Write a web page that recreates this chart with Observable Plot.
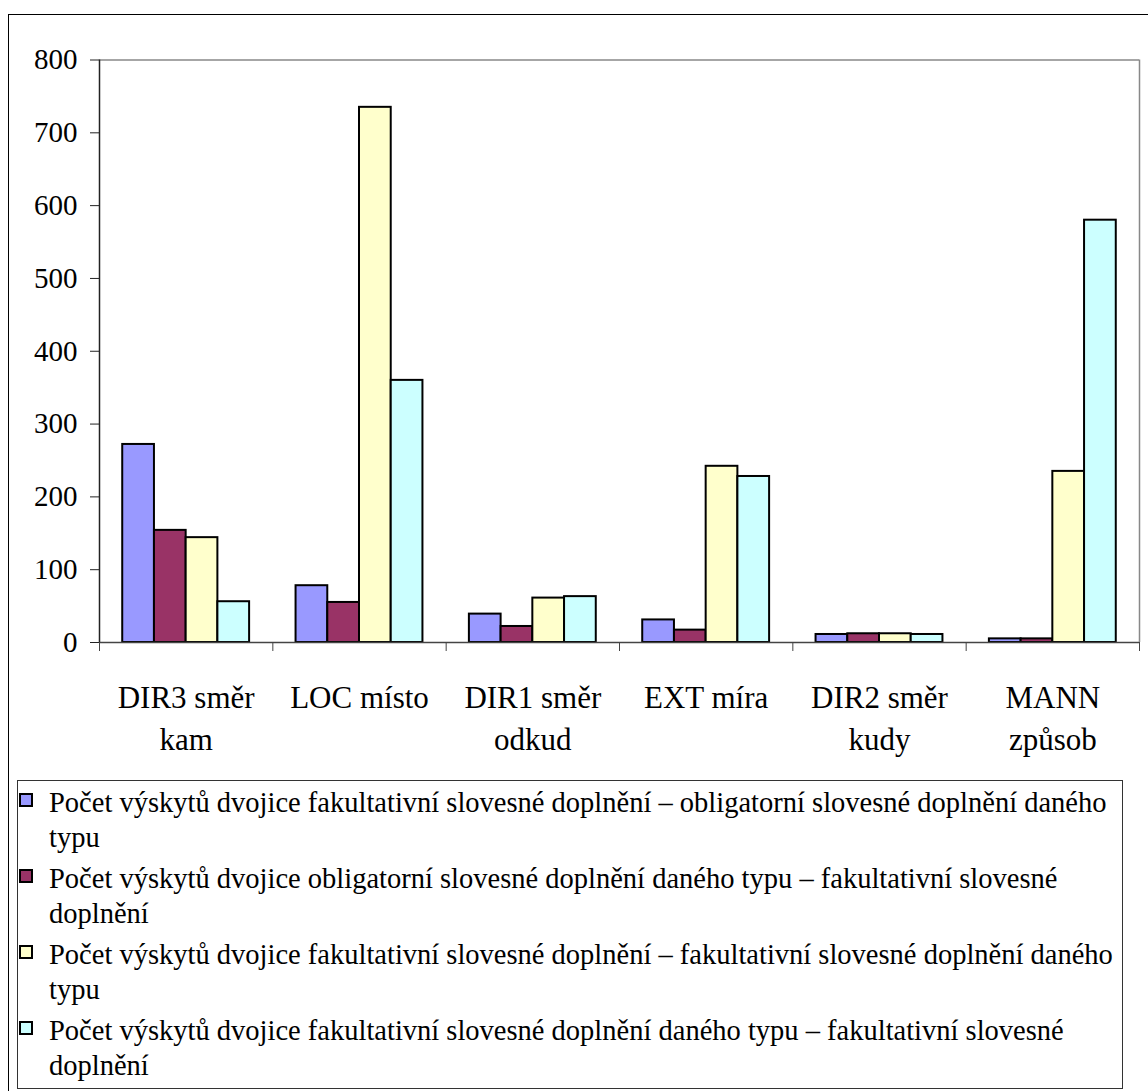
<!DOCTYPE html>
<html>
<head>
<meta charset="utf-8">
<script src="https://cdn.jsdelivr.net/npm/d3@7"></script>
<script src="https://cdn.jsdelivr.net/npm/@observablehq/plot@0.6"></script>
<style>
  html, body { margin: 0; padding: 0; background: #fff; overflow: hidden; }
  #frame { position: absolute; left: 8px; top: 14px; width: 1300px; height: 1300px;
           border-left: 1px solid #000; border-top: 1px solid #000; }
  #chart { position: absolute; left: 0; top: 0; }
  #legend { position: absolute; left: 17px; top: 780px; width: 1106px; height: 309px;
            box-sizing: border-box; border: 1px solid #333; padding-top: 4px;
            font-family: "Liberation Serif", "DejaVu Serif", "Noto Serif", serif; font-size: 28.5px;
            line-height: 35px; color: #000; }
  .item { display: flex; align-items: flex-start; margin-bottom: 6px; }
  .sw { flex: none; width: 14px; height: 14px; box-sizing: border-box; border: 2px solid #000;
        margin-top: 8px; margin-left: 1px; }
  .lab { margin-left: 16px; width: 1072px; }
</style>
</head>
<body>
<div id="frame"></div>
<div id="chart"></div>
<div id="legend"></div>
<script>
// Complement types on the category axis
const categories = ["DIR3 směr kam", "LOC místo", "DIR1 směr odkud", "EXT míra", "DIR2 směr kudy", "MANN způsob"];

// Series labels and colours
const seriesNames = [
  "Počet výskytů dvojice fakultativní slovesné doplnění – obligatorní slovesné doplnění daného typu",
  "Počet výskytů dvojice obligatorní slovesné doplnění daného typu – fakultativní slovesné doplnění",
  "Počet výskytů dvojice fakultativní slovesné doplnění – fakultativní slovesné doplnění daného typu",
  "Počet výskytů dvojice fakultativní slovesné doplnění daného typu – fakultativní slovesné doplnění"
];
const seriesColors = ["#9999FF", "#993366", "#FFFFCC", "#CCFFFF"];

// Counts per complement type, one array per series
const fakObl = [272, 78, 39, 31, 11, 5];
const oblFak = [154, 55, 22, 17, 12, 5];
const fakFak = [144, 735, 61, 242, 12, 235];
const fakFakTyp = [56, 360, 63, 228, 11, 580];
const seriesValues = [fakObl, oblFak, fakFak, fakFakTyp];

const yTicks = [0, 100, 200, 300, 400, 500, 600, 700, 800];

const rows = [];
categories.forEach((cat, ci) => {
  seriesValues.forEach((vals, si) => {
    rows.push({cat, ci, si, series: seriesNames[si], value: vals[ci]});
  });
});

// Layout of each category slot: outer gap and bar width as fractions of the slot
const gap = 0.134;
const bw = (1 - 2 * gap) / seriesNames.length;

const serif = "'Liberation Serif', 'DejaVu Serif', 'Noto Serif', serif";
const H = 770;
const chart = Plot.plot({
  width: 1148,
  height: H,
  marginLeft: 99,
  marginRight: 9,
  marginTop: 59.5,
  marginBottom: H - 642,
  style: {fontFamily: serif, fontSize: "29px", color: "#000", background: "transparent", overflow: "visible"},
  x: {domain: [0, categories.length], axis: null},
  y: {domain: [0, 800], axis: null},
  color: {domain: seriesNames, range: seriesColors},
  marks: [
    Plot.rectY(rows, {
      x1: d => d.ci + gap + d.si * bw,
      x2: d => d.ci + gap + (d.si + 1) * bw,
      y1: 0,
      y2: "value",
      fill: "series",
      stroke: "#000",
      strokeWidth: 2
    }),
    Plot.ruleY([800], {stroke: "#888", strokeWidth: 1.5}),
    Plot.ruleX([categories.length], {stroke: "#888", strokeWidth: 1.5}),
    Plot.ruleY([0], {stroke: "#444", strokeWidth: 1.5}),
    Plot.ruleX([0], {stroke: "#222", strokeWidth: 1.5}),
    Plot.axisY({ticks: yTicks, tickSize: 9, tickPadding: 13, tickFormat: d3.format("d"), fontSize: 29, fontFamily: serif, stroke: "#222", label: null}),
    Plot.axisX({ticks: d3.range(0, categories.length + 1), tickSize: 9, tickFormat: () => "", stroke: "#444", label: null}),
    Plot.text(categories, {
      x: (d, i) => i + 0.5,
      y: 0,
      text: d => d,
      lineAnchor: "top",
      dy: 36,
      lineWidth: 5.5,
      lineHeight: 1.35,
      fontSize: 31,
      fontFamily: serif,
      fill: "#000"
    })
  ]
});
document.getElementById("chart").appendChild(chart);

// Legend below the plot
const legend = d3.select("#legend");
seriesNames.forEach((name, i) => {
  const item = legend.append("div").attr("class", "item");
  item.append("div").attr("class", "sw").style("background", seriesColors[i]);
  item.append("div").attr("class", "lab").text(name);
});
</script>
</body>
</html>
